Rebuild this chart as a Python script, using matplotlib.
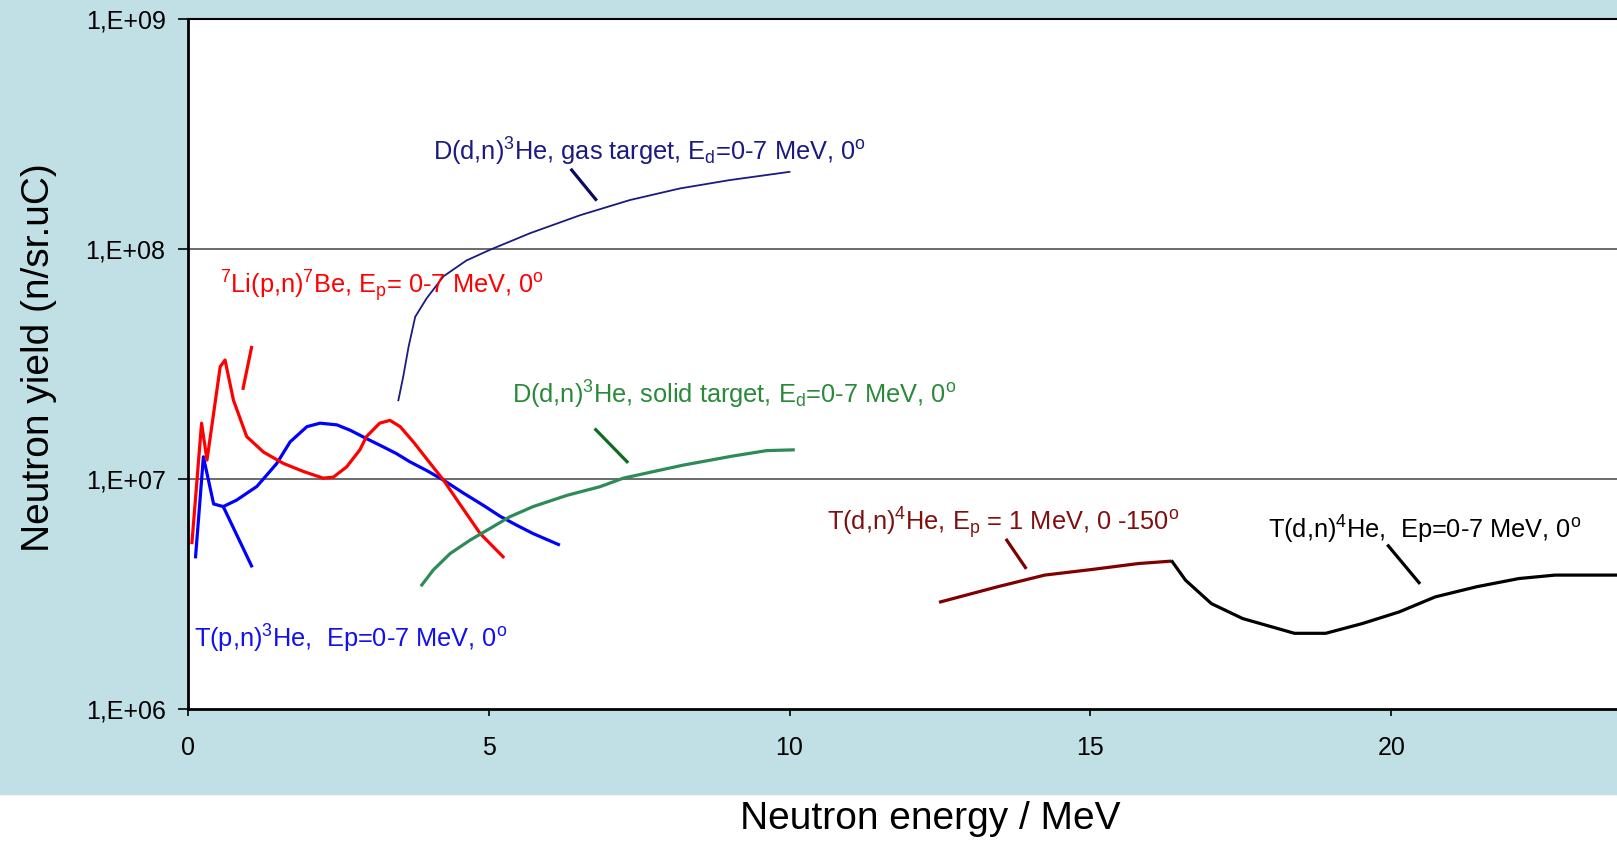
import matplotlib.pyplot as plt
from matplotlib.patches import Rectangle

plt.rcParams['font.family'] = ['Liberation Sans', 'DejaVu Sans']
plt.rcParams['mathtext.fontset'] = 'custom'
plt.rcParams['mathtext.rm'] = 'Liberation Sans'
plt.rcParams['mathtext.it'] = 'Liberation Sans'

# T(p,n)3He, Ep=0-7 MeV
tp_x = [0.59, 0.81, 1.15, 1.48, 1.70, 1.98, 2.20, 2.48, 2.70, 2.97, 3.25, 3.47,
        3.69, 3.97, 4.25, 4.58, 4.91, 5.19, 5.47, 5.74, 6.16]
tp_y = [7.6e6, 8.1e6, 9.3e6, 1.17e7, 1.45e7, 1.69e7, 1.75e7, 1.72e7, 1.63e7,
        1.50e7, 1.38e7, 1.29e7, 1.19e7, 1.09e7, 9.9e6, 8.7e6, 7.7e6, 6.9e6,
        6.3e6, 5.8e6, 5.2e6]
tp_low_x = [0.13, 0.26, 0.43, 0.59, 1.06]
tp_low_y = [4.6e6, 1.25e7, 7.8e6, 7.6e6, 4.2e6]

# 7Li(p,n)7Be, Ep=0-7 MeV
li_x = [0.07, 0.23, 0.32, 0.54, 0.62, 0.76, 0.98, 1.26, 1.59, 1.92, 2.25, 2.42,
        2.64, 2.86, 2.97, 3.19, 3.36, 3.53, 3.75, 4.03, 4.25, 4.52, 4.86, 5.24]
li_y = [5.3e6, 1.75e7, 1.21e7, 3.08e7, 3.29e7, 2.2e7, 1.53e7, 1.31e7, 1.17e7,
        1.08e7, 1.01e7, 1.02e7, 1.13e7, 1.34e7, 1.53e7, 1.75e7, 1.80e7, 1.69e7,
        1.45e7, 1.17e7, 9.9e6, 7.8e6, 5.8e6, 4.6e6]
li_seg_x = [0.92, 1.06]
li_seg_y = [2.48e7, 3.73e7]

# D(d,n)3He gas target
ddg_x = [3.50, 3.58, 3.67, 3.78, 3.97, 4.25, 4.63, 5.02, 5.69, 6.52, 7.35, 8.18,
         9.01, 10.0]
ddg_y = [2.2e7, 2.78e7, 3.76e7, 5.07e7, 6.1e7, 7.6e7, 8.9e7, 9.9e7, 1.17e8,
         1.40e8, 1.63e8, 1.83e8, 1.99e8, 2.16e8]

# D(d,n)3He solid target
dds_x = [3.89, 4.08, 4.36, 4.69, 5.02, 5.35, 5.74, 6.30, 6.85, 7.24, 8.23, 9.06,
         9.62, 10.06]
dds_y = [3.47e6, 4.03e6, 4.75e6, 5.43e6, 6.1e6, 6.86e6, 7.6e6, 8.5e6, 9.27e6,
         1.01e7, 1.15e7, 1.26e7, 1.33e7, 1.34e7]

# T(d,n)4He, Ep=1 MeV, 0-150 deg
td1_x = [12.51, 13.46, 14.24, 15.02, 15.80, 16.32]
td1_y = [2.93e6, 3.41e6, 3.83e6, 4.05e6, 4.30e6, 4.40e6]

# T(d,n)4He, Ep=0-7 MeV
td_x = [16.36, 16.58, 17.01, 17.53, 18.39, 18.91, 19.52, 20.13, 20.73, 21.42,
        22.12, 22.72, 23.74]
td_y = [4.38e6, 3.64e6, 2.88e6, 2.48e6, 2.14e6, 2.14e6, 2.36e6, 2.65e6, 3.08e6,
        3.41e6, 3.70e6, 3.83e6, 3.83e6]

y_ticks = [1e6, 1e7, 1e8, 1e9]
y_tick_labels = ['1,E+06', '1,E+07', '1,E+08', '1,E+09']
x_ticks = [0, 5, 10, 15, 20]

BG = '#C0E0E6'

fig = plt.figure(figsize=(16.17, 8.42), dpi=100)
fig.patches.append(Rectangle((0, 0.057), 1, 0.943, transform=fig.transFigure,
                             color=BG, zorder=-10))
ax = fig.add_axes([0.1161, 0.1575, 0.8839, 0.8204])
ax.set_facecolor('white')
ax.set_yscale('log')
ax.set_xlim(0, 23.75)
ax.set_ylim(1e6, 1e9)

for gy in [1e7, 1e8]:
    ax.axhline(gy, color='#606060', lw=1.3, zorder=1)

ax.plot(tp_x, tp_y, color='#0000FF', lw=2.3, zorder=3)
ax.plot(tp_low_x, tp_low_y, color='#0000FF', lw=2.3, zorder=3)
ax.plot(li_x, li_y, color='#FF0000', lw=2.3, zorder=3)
ax.plot(li_seg_x, li_seg_y, color='#FF0000', lw=2.3, zorder=3)
ax.plot(ddg_x, ddg_y, color='#1A1A80', lw=1.3, zorder=3)
ax.plot(dds_x, dds_y, color='#2E8B57', lw=2.3, zorder=3)
ax.plot(td1_x, td1_y, color='#800000', lw=2.3, zorder=3)
ax.plot(td_x, td_y, color='black', lw=2.3, zorder=3)

# leader marks
ax.plot([6.38, 6.78], [2.2e8, 1.64e8], color='#0A0A60', lw=2.3)
ax.plot([6.78, 7.30], [1.64e7, 1.19e7], color='#0A6E1E', lw=2.3)
ax.plot([13.61, 13.92], [5.43e6, 4.13e6], color='#800000', lw=2.3)
ax.plot([19.95, 20.46], [5.13e6, 3.55e6], color='black', lw=2.3)

fs = 18.3
ax.text(4.07, 2.64e8, r'D(d,n)$^{3}$He, gas target, E$_{\mathrm{d}}$=0-7 MeV, 0$^{\mathrm{o}}$',
        color='#1A1A80', fontsize=fs, va='center')
ax.text(0.53, 6.92e7, r'$^{7}$Li(p,n)$^{7}$Be, E$_{\mathrm{p}}$= 0-7 MeV, 0$^{\mathrm{o}}$',
        color='#FF0000', fontsize=fs, va='center')
ax.text(5.38, 2.32e7, r'D(d,n)$^{3}$He, solid target, E$_{\mathrm{d}}$=0-7 MeV, 0$^{\mathrm{o}}$',
        color='#2A8A3A', fontsize=fs, va='center')
ax.text(0.10, 2.03e6, r'T(p,n)$^{3}$He,  Ep=0-7 MeV, 0$^{\mathrm{o}}$',
        color='#1010F0', fontsize=fs, va='center')
ax.text(10.62, 6.46e6, r'T(d,n)$^{4}$He, E$_{\mathrm{p}}$ = 1 MeV, 0 -150$^{\mathrm{o}}$',
        color='#801010', fontsize=fs, va='center')
ax.text(17.95, 6.0e6, r'T(d,n)$^{4}$He,  Ep=0-7 MeV, 0$^{\mathrm{o}}$',
        color='black', fontsize=fs, va='center')

ax.set_yticks(y_ticks)
ax.set_yticklabels(y_tick_labels)
ax.minorticks_off()
ax.set_xticks(x_ticks)
ax.tick_params(axis='y', direction='out', length=7, width=1.2, pad=9,
               labelsize=18, colors='black')
ax.tick_params(axis='x', direction='out', length=5, width=1.2, pad=14,
               labelsize=18)

for side in ['left', 'bottom']:
    ax.spines[side].set_linewidth(2)
    ax.spines[side].set_color('black')
ax.spines['top'].set_linewidth(1.5)
ax.spines['right'].set_visible(False)

fig.text(0.024, 0.575, 'Neutron yield (n/sr.uC)', rotation=90, fontsize=28,
         ha='center', va='center')
fig.text(0.575, 0.027, 'Neutron energy / MeV', fontsize=28, ha='center',
         va='center')

plt.savefig('out.png', dpi=100)
plt.close()
